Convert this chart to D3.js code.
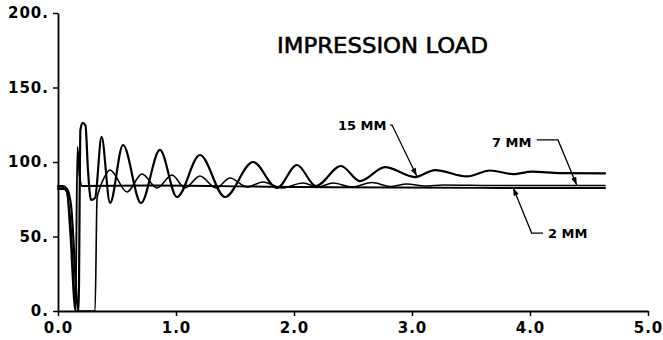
<!DOCTYPE html>
<html>
<head>
<meta charset="utf-8">
<script src="https://cdn.jsdelivr.net/npm/d3@7"></script>
<style>
  body { margin: 0; background: #fff; }
  svg { display: block; }
</style>
</head>
<body>
<svg id="chart" width="663" height="340"></svg>
<script>
// tick values
const xTicks = [0, 1, 2, 3, 4, 5];
const yTicks = [0, 50, 100, 150, 200];

// 15 MM
const time15 = [0, 0.042, 0.076, 0.110, 0.174, 0.190, 0.208, 0.233, 0.254, 0.280, 0.314, 0.369, 0.441,
  0.551, 0.703, 0.864, 1.008, 1.203, 1.415, 1.653, 1.856, 2.025, 2.186, 2.398, 2.559, 2.771, 3.025,
  3.195, 3.466, 3.661, 3.856, 4.017, 4.254, 4.636];
const load15 = [83.9, 83.9, 81.9, 71.1, 0, 121.5, 126.2, 124.5, 94.6, 74.5, 75.8, 116.8, 72.5,
  111.4, 72.5, 108.1, 76.5, 104.7, 76.5, 100.0, 82.6, 98.0, 83.9, 97.3, 87.2, 96.6, 89.9,
  94.6, 90.3, 94.3, 91.9, 93.6, 92.6, 92.4];

// 7 MM
const time7 = [0, 0.034, 0.068, 0.102, 0.157, 0.314, 0.331, 0.347, 0.390, 0.441, 0.585, 0.712, 0.839,
  0.966, 1.076, 1.203, 1.339, 1.458, 1.602, 1.737, 1.898, 2.076, 2.203, 2.331, 2.492, 2.661, 2.814,
  2.958, 3.110, 3.263, 3.746, 4.636];
const load7 = [83.2, 83.2, 81.2, 64.4, 0, 0, 75.8, 80.6, 89.3, 94.6, 79.9, 91.9, 82.6,
  91.3, 82.6, 90.6, 82.6, 89.3, 83.2, 86.6, 82.6, 85.9, 83.2, 85.9, 83.2, 86.2, 83.6,
  85.2, 83.9, 84.6, 84.2, 84.2];

// 2 MM
const time2 = [0, 0.051, 0.076, 0.102, 0.148, 0.165, 0.182, 0.203, 0.780, 2.051, 2.898, 3.746, 4.636];
const load2 = [81.9, 81.9, 79.9, 54.4, 0, 110.1, 91.3, 83.9, 84.2, 83.2, 82.9, 82.6, 82.6];

const series = [
  { name: '15 MM', time: time15, load: load15, width: 2.2 },
  { name: '7 MM', time: time7, load: load7, width: 1.6 },
  { name: '2 MM', time: time2, load: load2, width: 1.9 }
];

// labels with leader lines, in data units
const notes = [
  { text: '15 MM', at: [2.373, 121.5], leader: [[2.814, 124.8], [2.831, 124.8], [3.04, 90.6]] },
  { text: '7 MM', at: [3.678, 110.1], leader: [[4.057, 114.8], [4.237, 114.8], [4.396, 84.6]] },
  { text: '2 MM', at: [4.153, 49.0], leader: [[4.11, 52.3], [4.014, 52.3], [3.858, 82.6]] }
];

const svg = d3.select('#chart');
const font = 'DejaVu Sans, Verdana, sans-serif';

const x = d3.scaleLinear().domain([0, 5]).range([58, 648]);
const y = d3.scaleLinear().domain([0, 200]).range([311, 13]);

svg.append('defs')
  .append('marker')
  .attr('id', 'arrow')
  .attr('viewBox', '0 0 10 10')
  .attr('refX', 10)
  .attr('refY', 5)
  .attr('markerWidth', 6)
  .attr('markerHeight', 6)
  .attr('orient', 'auto')
  .append('path')
  .attr('d', 'M0,1.5 L10,5 L0,8.5 z')
  .attr('fill', '#000');

// axes
const xAxis = svg.append('g')
  .attr('transform', `translate(0,${y(0)})`)
  .call(d3.axisBottom(x)
    .tickValues(xTicks)
    .tickFormat(d3.format('.1f'))
    .tickSize(5)
    .tickSizeOuter(0)
    .tickPadding(6));

const yAxis = svg.append('g')
  .attr('transform', `translate(${x(0)},0)`)
  .call(d3.axisLeft(y)
    .tickValues(yTicks)
    .tickFormat(d => d + '.')
    .tickSize(5)
    .tickSizeOuter(0)
    .tickPadding(4));

[xAxis, yAxis].forEach(g => {
  g.select('.domain').attr('stroke', '#000').attr('stroke-width', 1.8);
  g.selectAll('.tick line').attr('stroke', '#000').attr('stroke-width', 1.5);
  g.selectAll('.tick text')
    .attr('fill', '#000')
    .style('font-family', font)
    .style('font-weight', 'bold')
    .style('font-size', '15px')
    .style('letter-spacing', '1px');
});

// curves
const line = d3.line()
  .curve(d3.curveMonotoneX)
  .x(d => x(d[0]))
  .y(d => y(d[1]));

svg.append('g')
  .selectAll('path')
  .data(series)
  .enter()
  .append('path')
  .attr('d', s => line(s.time.map((t, i) => [t, s.load[i]])))
  .attr('fill', 'none')
  .attr('stroke', '#000')
  .attr('stroke-width', s => s.width)
  .attr('stroke-linejoin', 'round')
  .attr('stroke-linecap', 'round');

// title
svg.append('text')
  .attr('x', x(1.856))
  .attr('y', y(173))
  .attr('textLength', 211)
  .attr('lengthAdjust', 'spacingAndGlyphs')
  .style('font-family', font)
  .style('font-size', '22px')
  .attr('fill', '#000')
  .attr('stroke', '#000')
  .attr('stroke-width', 0.6)
  .text('IMPRESSION LOAD');

// annotations
const leader = d3.line().x(d => x(d[0])).y(d => y(d[1]));
const note = svg.append('g').selectAll('g').data(notes).enter().append('g');

note.append('text')
  .attr('x', d => x(d.at[0]))
  .attr('y', d => y(d.at[1]))
  .style('font-family', font)
  .style('font-weight', 'bold')
  .style('font-size', '13px')
  .attr('fill', '#000')
  .text(d => d.text);

note.append('path')
  .attr('d', d => leader(d.leader))
  .attr('fill', 'none')
  .attr('stroke', '#000')
  .attr('stroke-width', 1.3)
  .attr('marker-end', 'url(#arrow)');
</script>
</body>
</html>
